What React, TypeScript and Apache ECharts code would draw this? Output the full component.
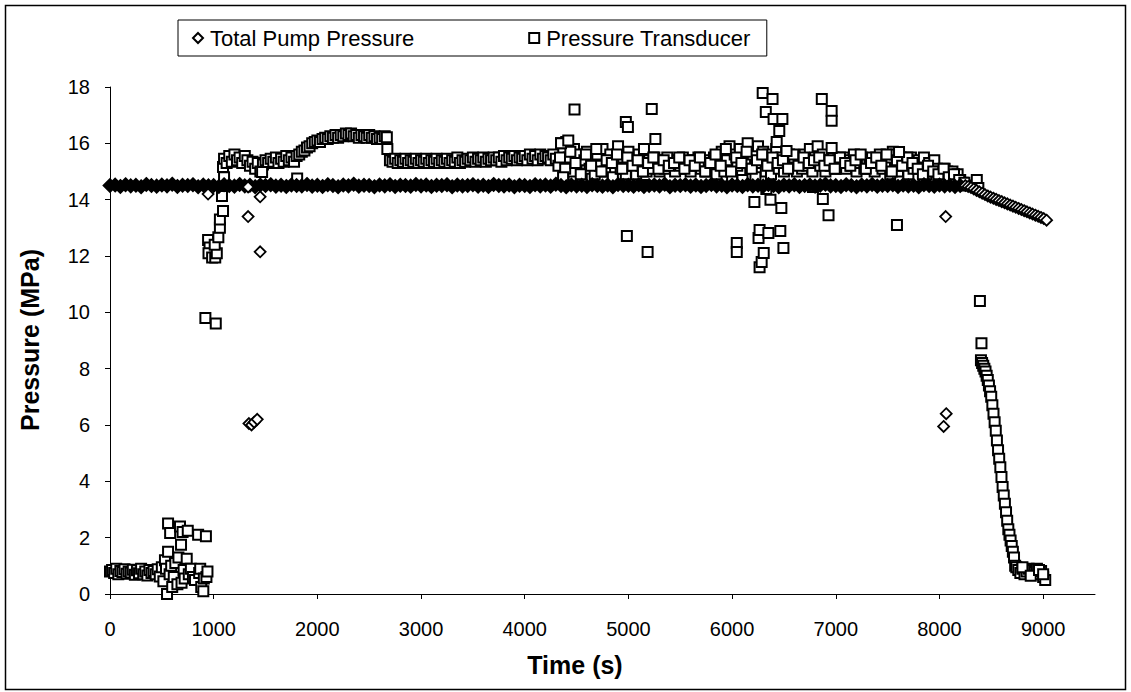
import React, { useEffect, useRef } from "react";
import * as echarts from "echarts";

// ---- Data (time in s, pressure in MPa) ----
const xTicks = [0, 1000, 2000, 3000, 4000, 5000, 6000, 7000, 8000, 9000];
const yTicks = [0, 2, 4, 6, 8, 10, 12, 14, 16, 18];

// Total Pump Pressure: logged every 50 s from 0 to 8200 s
const pumpBandStart = 0;
const pumpBandStep = 50;
const pumpBand = [
  14.50, 14.52, 14.47, 14.53, 14.49, 14.51, 14.46, 14.54, 14.50, 14.48,
  14.52, 14.49, 14.55, 14.47, 14.51, 14.50, 14.53, 14.46, 14.52, 14.49,
  14.50, 14.47, 14.53, 14.50, 14.48, 14.54, 14.49, 14.51, 14.46, 14.52,
  14.50, 14.53, 14.48, 14.51, 14.47, 14.52, 14.50, 14.49, 14.54, 14.48,
  14.51, 14.47, 14.53, 14.50, 14.46, 14.52, 14.49, 14.55, 14.48, 14.51,
  14.50, 14.46, 14.52, 14.49, 14.53, 14.47, 14.51, 14.50, 14.48, 14.54,
  14.49, 14.52, 14.47, 14.51, 14.50, 14.53, 14.46, 14.52, 14.49, 14.50,
  14.53, 14.48, 14.51, 14.47, 14.54, 14.50, 14.49, 14.52, 14.46, 14.51,
  14.50, 14.47, 14.53, 14.49, 14.52, 14.48, 14.55, 14.50, 14.46, 14.52,
  14.49, 14.51, 14.47, 14.53, 14.50, 14.48, 14.52, 14.46, 14.54, 14.50,
  14.51, 14.48, 14.53, 14.47, 14.50, 14.52, 14.49, 14.55, 14.46, 14.51,
  14.50, 14.53, 14.48, 14.52, 14.47, 14.50, 14.54, 14.49, 14.51, 14.46,
  14.52, 14.50, 14.47, 14.53, 14.49, 14.51, 14.48, 14.54, 14.50, 14.46,
  14.52, 14.49, 14.53, 14.47, 14.50, 14.52, 14.48, 14.51, 14.55, 14.49,
  14.50, 14.47, 14.53, 14.50, 14.46, 14.52, 14.49, 14.54, 14.48, 14.51,
  14.50, 14.53, 14.47, 14.52, 14.49, 14.51, 14.46, 14.53, 14.50, 14.48,
  14.52, 14.49, 14.51, 14.47, 14.50,
];
// End-of-test decline, logged every 27 s from 8250 s
const pumpRampStart = 8250;
const pumpRampStep = 27;
const pumpRamp = [
  14.50, 14.47, 14.43, 14.38, 14.33, 14.28, 14.23, 14.18, 14.13, 14.09,
  14.05, 14.01, 13.97, 13.93, 13.89, 13.85, 13.81, 13.77, 13.73, 13.69,
  13.65, 13.61, 13.57, 13.53, 13.49, 13.45, 13.41, 13.37, 13.33, 13.27,
];
const pumpOutliers: [number, number][] = [
  [946, 14.2], [1332, 14.45], [1332, 13.4], [1448, 14.1], [1448, 12.15],
  [1340, 6.05], [1365, 6.0], [1390, 6.1], [1420, 6.2],
  [8040, 5.95], [8065, 6.4], [8060, 13.4],
];

// Pressure Transducer
const lowStart = 0;
const lowStep = 20;
const transducerLow = [
  0.80, 0.85, 0.75, 0.90, 0.70, 0.82, 0.78, 0.88, 0.72, 0.80,
  0.76, 0.86, 0.68, 0.84, 0.74, 0.90, 0.70, 0.80, 0.66, 0.85,
  0.75, 0.82, 0.70, 0.88, 0.62, 0.95,
];
const transducerScatter: [number, number][] = [
  [515, 0.45], [530, 1.2], [540, 0.9], [550, 0.0], [560, 2.5], [560, 1.5],
  [575, 0.7], [580, 2.17], [590, 1.0], [600, 0.25], [615, 0.6], [630, 1.1],
  [650, 0.35], [660, 1.3], [675, 2.4], [685, 1.75], [690, 0.4], [700, 2.2],
  [710, 0.85], [720, 0.55], [740, 1.25], [750, 2.25], [760, 0.7], [780, 0.9],
  [800, 0.6], [820, 0.5], [850, 2.1], [860, 0.75], [870, 0.9], [880, 0.25],
  [900, 0.1], [905, 0.55], [925, 2.05], [930, 0.6], [940, 0.8],
];
const transducerRise: [number, number][] = [
  [920, 9.8], [1020, 9.6], [946, 12.57], [960, 12.3], [950, 12.1],
  [985, 11.95], [1015, 11.95], [1030, 12.1], [1010, 12.4], [1045, 12.67],
  [1060, 13.0], [1060, 13.3], [1090, 13.6], [1080, 14.13], [1100, 14.8],
  [1090, 15.16],
];
const highStart = 1100;
const highStep = 25;
const transducerHigh = [
  15.45, 15.30, 15.55, 15.35, 15.60, 15.40, 15.50, 15.30, 15.55, 15.40,
  15.20, 15.35, 15.10, 15.30, 15.00, 15.25, 15.40, 15.30, 15.45, 15.35,
  15.50, 15.30, 15.45, 15.35, 15.55, 15.40, 15.50, 15.35, 15.55, 15.60,
  15.70, 15.75, 15.85, 15.90, 16.00, 16.05, 16.10, 16.05, 16.15, 16.20,
  16.15, 16.25, 16.20, 16.30, 16.20, 16.30, 16.25, 16.35, 16.30, 16.35,
  16.25, 16.30, 16.20, 16.30, 16.25, 16.20, 16.30, 16.20, 16.25, 16.15,
  16.20, 16.15, 16.25, 15.80, 15.40,
];
const midStart = 2725;
const midStep = 25;
const transducerMid = [
  15.35, 15.45, 15.30, 15.40, 15.35, 15.45, 15.30, 15.40, 15.35, 15.45,
  15.30, 15.40, 15.35, 15.45, 15.30, 15.40, 15.35, 15.45, 15.30, 15.40,
  15.35, 15.45, 15.30, 15.40, 15.35, 15.50, 15.30, 15.40, 15.35, 15.45,
  15.40, 15.50, 15.35, 15.45, 15.40, 15.50, 15.35, 15.45, 15.40, 15.50,
  15.40, 15.50, 15.35, 15.55, 15.40, 15.50, 15.45, 15.55, 15.40, 15.50,
  15.45, 15.55, 15.40, 15.60, 15.45, 15.55, 15.40, 15.60, 15.45, 15.55,
  15.50, 15.40, 15.60, 15.45,
];
const noisyStart = 4325;
const noisyStep = 25;
const transducerNoisy = [
  15.2, 16.0, 14.8, 16.05, 15.5, 15.0, 15.8, 15.3, 15.6, 14.9,
  15.4, 15.7, 15.1, 15.5, 14.9, 15.6, 15.2, 15.8, 15.0, 15.4,
  15.6, 14.8, 15.3, 15.9, 15.1, 15.5, 14.9, 15.7, 15.2, 15.4,
  14.9, 15.6, 15.2, 15.8, 15.0, 15.4, 15.1, 15.5, 15.3, 15.0,
  15.4, 15.1, 15.5, 15.2, 15.3, 15.0, 15.4, 15.2, 15.5, 15.1,
  15.3, 15.0, 15.4, 15.2, 15.5, 15.1, 15.3, 15.0, 15.4, 15.2,
  15.5, 14.9, 15.3, 15.7, 15.0, 15.4, 15.9, 14.8, 15.6, 15.2,
  15.8, 14.7, 15.4, 16.0, 15.1, 15.6, 14.8, 15.9, 15.3, 15.7,
  15.0, 15.6, 14.9, 15.4, 15.8, 15.1, 15.5, 15.0, 15.3, 15.6,
  15.2, 15.5, 15.0, 15.4, 15.1, 15.6, 15.2, 15.8, 15.0, 15.5,
  15.9, 15.2, 15.6, 15.0, 15.4, 15.2, 15.5, 15.1, 15.4, 15.3,
  15.5, 15.1, 15.4, 15.2, 15.6, 15.0, 15.3, 15.5, 15.1, 15.4,
  15.2, 15.5, 15.0, 15.4, 15.6, 15.1, 15.3, 15.5, 14.9, 15.7,
  15.6, 15.0, 15.5, 15.2, 15.4, 14.9, 15.5, 15.1, 15.3, 15.4,
  15.2, 15.5, 14.9, 15.3, 15.0, 15.4, 15.1, 15.0, 14.8, 15.1,
  15.0, 14.9, 15.0, 14.8, 14.9, 14.7, 14.6, 14.5,
];
const noisy2Start = 4340;
const noisy2Step = 50;
const transducerNoisy2 = [
  15.5, 15.1, 15.7, 15.3, 14.9, 15.6, 15.2, 15.8, 15.0, 15.4,
  15.3, 15.6, 15.1, 15.5, 15.2, 15.4, 15.0, 15.3, 15.5, 15.1,
  15.4, 15.2, 15.3, 15.5, 15.1, 15.4, 15.2, 15.5, 15.0, 15.3,
  15.6, 15.2, 15.8, 15.0, 15.5, 15.3, 15.7, 15.1, 15.4, 15.6,
  15.2, 15.5, 15.3, 15.4, 15.1, 15.6, 15.2, 15.5, 15.3, 15.4,
  15.5, 15.2, 15.4, 15.1, 15.5, 15.3, 15.2, 15.4, 15.6, 15.1,
  15.3, 15.5, 15.2, 15.6, 15.0, 15.4, 15.2, 15.5, 15.3, 15.1,
  14.9, 15.2, 15.0, 14.9, 15.1, 14.8, 14.9, 14.7, 14.6,
];
const transducerOutliers: [number, number][] = [
  [1467, 14.98], [1805, 14.75], [2670, 16.22],
  [4350, 16.0], [4370, 14.8], [4480, 17.2], [4420, 16.1],
  [4975, 16.76], [4995, 16.58], [4985, 12.71], [5145, 14.52], [5185, 12.14],
  [5225, 17.22], [5260, 16.15], [6045, 12.46], [6045, 12.14], [6215, 13.92],
  [6255, 12.64], [6265, 12.92], [6265, 11.6], [6285, 11.79], [6305, 12.11],
  [6295, 17.79], [6325, 17.11], [6330, 14.38], [6350, 12.82], [6370, 14.0],
  [6390, 17.57], [6400, 16.86], [6430, 16.05], [6455, 16.44], [6465, 12.89],
  [6475, 13.7], [6485, 16.86], [6495, 12.28], [6525, 15.73], [6780, 14.45],
  [6865, 17.57], [6875, 14.02], [6930, 13.45], [6960, 17.15], [6960, 16.8],
  [6960, 15.83], [7590, 13.1], [7610, 15.69], [8360, 14.7], [8375, 14.41],
  [8390, 10.4], [8405, 8.9],
];
const dropStart = 8400;
const dropStep = 11;
const transducerDrop = [
  8.3, 8.2, 8.1, 8.0, 7.9, 7.75, 7.6, 7.4, 7.2, 7.0,
  6.7, 6.4, 6.1, 5.8, 5.45, 5.1, 4.8, 4.5, 4.15, 3.8,
  3.5, 3.2, 2.9, 2.6, 2.3, 2.1, 1.9, 1.7, 1.5, 1.3,
  1.0, 0.95,
];
const tailStart = 8760;
const tailStep = 20;
const transducerTail = [
  0.85, 0.75, 0.9, 0.7, 0.8, 0.9, 0.72, 0.85, 0.78, 0.9,
  0.7, 0.82, 0.6, 0.5,
];
const tailExtra: [number, number][] = [
  [8800, 0.95], [8880, 0.65], [8960, 0.85], [9000, 0.7],
];

const seriesNames = ["Total Pump Pressure", "Pressure Transducer"];

function sampled(start: number, step: number, values: number[]): [number, number][] {
  return values.map((v, i) => [start + i * step, v]);
}

const FONT = "'Liberation Sans', Arial, Helvetica, sans-serif";

export default function App() {
  const ref = useRef<HTMLDivElement>(null);
  useEffect(() => {
    if (!ref.current) return;
    const chart = echarts.init(ref.current, undefined, { renderer: "svg" });

    // the continuous pump-pressure record is so dense it prints as a solid band
    const solid = { color: "#000", borderColor: "#000" };
    const pumpData = [
      ...sampled(pumpBandStart, pumpBandStep, pumpBand).map((p) => ({
        value: p,
        symbolSize: 13,
        itemStyle: solid,
      })),
      ...sampled(pumpRampStart, pumpRampStep, pumpRamp),
      ...pumpOutliers,
    ];
    const transducerData = [
      ...sampled(lowStart, lowStep, transducerLow),
      ...transducerScatter,
      ...transducerRise,
      ...sampled(highStart, highStep, transducerHigh),
      ...sampled(midStart, midStep, transducerMid),
      ...sampled(noisyStart, noisyStep, transducerNoisy),
      ...sampled(noisy2Start, noisy2Step, transducerNoisy2),
      ...transducerOutliers,
      ...sampled(dropStart, dropStep, transducerDrop),
      ...sampled(tailStart, tailStep, transducerTail),
      ...tailExtra,
    ];

    chart.setOption({
      animation: false,
      backgroundColor: "#fff",
      textStyle: { fontFamily: FONT, color: "#000" },
      grid: { left: 110, top: 87, width: 985, height: 507, containLabel: false },
      legend: {
        left: 178,
        top: 20,
        padding: [7, 16, 7, 14],
        borderColor: "#000",
        borderWidth: 1,
        itemGap: 114,
        itemWidth: 10,
        itemHeight: 10,
        textStyle: { fontSize: 22, fontFamily: FONT, color: "#000", padding: [0, 0, 0, 2] },
        data: [
          { name: seriesNames[0], icon: "diamond" },
          { name: seriesNames[1], icon: "rect" },
        ],
      },
      xAxis: {
        type: "value",
        min: 0,
        max: 9500,
        interval: 1000,
        splitLine: { show: false },
        axisLine: { lineStyle: { color: "#000", width: 1 } },
        axisTick: { show: true, length: 5, lineStyle: { color: "#000" }, customValues: xTicks },
        axisLabel: {
          fontSize: 20,
          color: "#000",
          fontFamily: FONT,
          margin: 25,
          customValues: xTicks,
          formatter: (v: number) => String(v),
        },
      },
      yAxis: {
        type: "value",
        min: 0,
        max: 18,
        interval: 2,
        splitLine: { show: false },
        axisLine: { show: true, lineStyle: { color: "#000", width: 1 } },
        axisTick: { show: true, length: 5, lineStyle: { color: "#000" }, customValues: yTicks },
        axisLabel: { fontSize: 20, color: "#000", fontFamily: FONT, margin: 20, customValues: yTicks },
      },
      graphic: [
        {
          type: "rect",
          shape: { x: 5.5, y: 5.5, width: 1120, height: 684 },
          style: { fill: "none", stroke: "#000", lineWidth: 1.5 },
          silent: true,
          z: -10,
        },
        {
          type: "text",
          x: 575,
          y: 665,
          style: {
            text: "Time (s)",
            font: `bold 25px ${FONT}`,
            fill: "#000",
            align: "center",
            verticalAlign: "middle",
          },
        },
        {
          type: "text",
          x: 30,
          y: 340,
          rotation: Math.PI / 2,
          style: {
            text: "Pressure (MPa)",
            font: `bold 25px ${FONT}`,
            fill: "#000",
            align: "center",
            verticalAlign: "middle",
          },
        },
      ],
      series: [
        {
          name: seriesNames[1],
          type: "scatter",
          symbol: "rect",
          symbolSize: 10,
          itemStyle: { color: "#fff", borderColor: "#000", borderWidth: 2, opacity: 1 },
          data: transducerData,
          z: 2,
        },
        {
          name: seriesNames[0],
          type: "scatter",
          symbol: "diamond",
          symbolSize: 11,
          itemStyle: { color: "#fff", borderColor: "#000", borderWidth: 1.8, opacity: 1 },
          data: pumpData,
          z: 3,
        },
      ],
    });
    return () => chart.dispose();
  }, []);
  return (
    <div
      ref={ref}
      style={{ position: "fixed", left: 0, top: 0, width: 1131, height: 692, background: "#fff" }}
    />
  );
}
